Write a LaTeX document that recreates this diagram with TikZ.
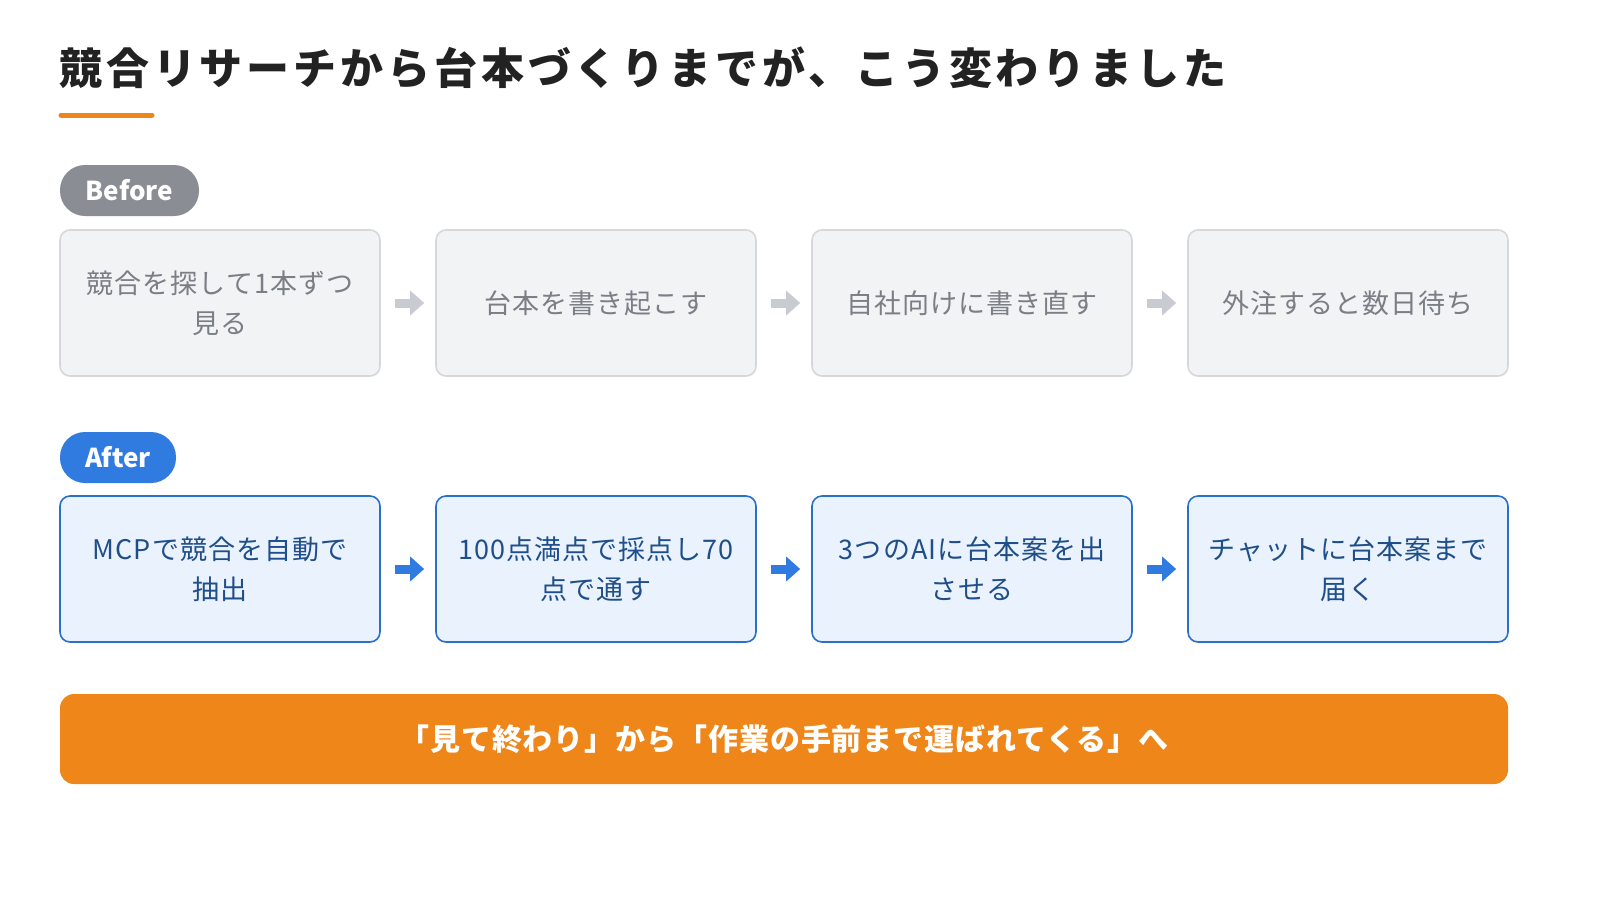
\documentclass[tikz,border=0pt]{standalone}
\usepackage{fontspec}
\usetikzlibrary{arrows.meta}
\setmainfont{Noto Sans CJK JP}
\definecolor{bgray}{HTML}{8A8D93}
\definecolor{bfill}{HTML}{F2F3F5}
\definecolor{bline}{HTML}{D5D7DB}
\definecolor{btext}{HTML}{7A7F86}
\definecolor{barrow}{HTML}{C8CCD2}
\definecolor{ablue}{HTML}{2F7BE0}
\definecolor{afill}{HTML}{EAF3FD}
\definecolor{aline}{HTML}{2A6FC9}
\definecolor{atext}{HTML}{1F4E8A}
\definecolor{orng}{HTML}{EE861A}
\definecolor{ttl}{HTML}{222222}
\begin{document}
\begin{tikzpicture}[x=0.5pt,y=-0.5pt,
 box/.style={rounded corners=5pt,line width=0.8pt,minimum width=160pt,minimum height=73pt,align=center,font=\fontsize{13.5}{20}\selectfont\addfontfeatures{LetterSpace=4},inner sep=0pt},
 bbox/.style={box,fill=bfill,draw=bline,text=btext},
 abox/.style={box,fill=afill,draw=aline,text=atext},
 pill/.style={rounded corners=12.5pt,minimum height=25.5pt,inner sep=0pt,text=white,font=\fontsize{13}{13}\selectfont\bfseries},
 arr/.style={line width=4.5pt,-{Triangle[length=7pt,width=12pt]}}]
\useasboundingbox (0,0) rectangle (1600,900);
\node[anchor=west,text=ttl,font=\fontsize{21.5}{21.5}\selectfont\bfseries\addfontfeatures{LetterSpace=9},inner sep=0pt] (title) at (59,68) {競合リサーチから台本づくりまでが、こう変わりました};
\draw[orng,line width=2.5pt,line cap=round] (61,115) -- (152,115);
\node[pill,fill=bgray,minimum width=69.5pt] (bp) at (129.5,190.5) {Before};
\node[bbox] (b1) at (220,303) {競合を探して1本ずつ\\見る};
\node[bbox] (b2) at (596,303) {台本を書き起こす};
\node[bbox] (b3) at (972,303) {自社向けに書き直す};
\node[bbox] (b4) at (1348,303) {外注すると数日待ち};
\node[pill,fill=ablue,minimum width=58pt] (ap) at (118,457.5) {After};
\node[abox] (a1) at (220,569) {MCPで競合を自動で\\抽出};
\node[abox] (a2) at (596,569) {100点満点で採点し70\\点で通す};
\node[abox] (a3) at (972,569) {3つのAIに台本案を出\\させる};
\node[abox] (a4) at (1348,569) {チャットに台本案まで\\届く};
\foreach \p/\q in {b1/b2,b2/b3,b3/b4}{
 \draw[arr,barrow] ([xshift=7pt]\p.east) -- ([xshift=-5.5pt]\q.west);}
\foreach \p/\q in {a1/a2,a2/a3,a3/a4}{
 \draw[arr,ablue] ([xshift=7pt]\p.east) -- ([xshift=-5.5pt]\q.west);}
\node[fill=orng,rounded corners=7pt,minimum width=724pt,minimum height=45pt,inner sep=0pt,text=white,font=\fontsize{15}{15}\selectfont\bfseries\addfontfeatures{LetterSpace=3}] (ban) at (784,739) {「見て終わり」から「作業の手前まで運ばれてくる」へ};
\end{tikzpicture}
\end{document}
